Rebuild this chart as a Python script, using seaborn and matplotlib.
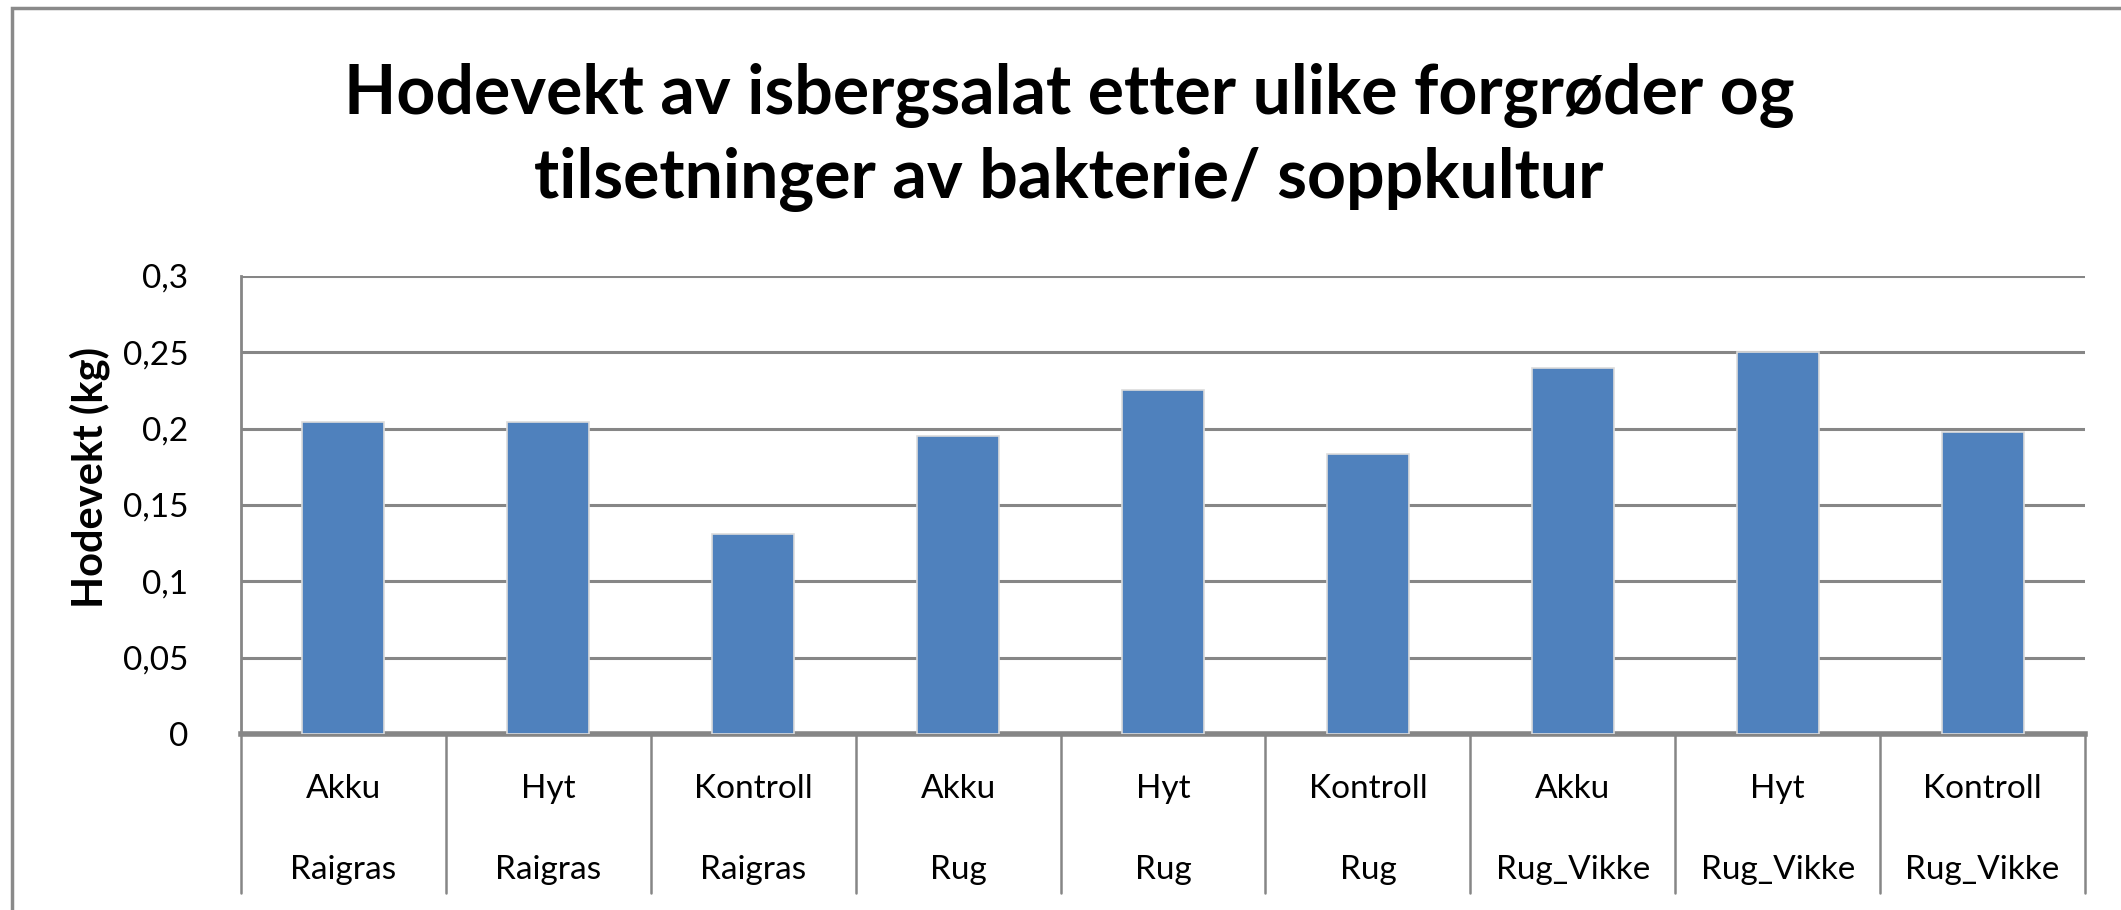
import numpy as np
import pandas as pd
import matplotlib
matplotlib.use("Agg")
import matplotlib.pyplot as plt
import seaborn as sns
from matplotlib.patches import Rectangle

# data
behandling = ["Akku", "Hyt", "Kontroll", "Akku", "Hyt", "Kontroll", "Akku", "Hyt", "Kontroll"]
forgrode = ["Raigras", "Raigras", "Raigras", "Rug", "Rug", "Rug", "Rug_Vikke", "Rug_Vikke", "Rug_Vikke"]
hodevekt = [0.2044, 0.2044, 0.1312, 0.1955, 0.2254, 0.1836, 0.2398, 0.2503, 0.1981]
yticks = [0, 0.05, 0.1, 0.15, 0.2, 0.25, 0.3]
ytick_labels = ["0", "0,05", "0,1", "0,15", "0,2", "0,25", "0,3"]

df = pd.DataFrame({"pos": [str(i) for i in range(len(hodevekt))], "vekt": hodevekt})

sns.set_style("white")
plt.rcParams["font.family"] = ["Lato", "DejaVu Sans"]
plt.rcParams["text.color"] = "black"

W, H = 2121, 910
fig = plt.figure(figsize=(W / 100, H / 100), dpi=100)
ax = fig.add_axes([241 / W, 1 - 734 / H, (2085 - 241) / W, (734 - 276) / H])

grid_col = "#868686"
ax.set_axisbelow(True)
for yv in yticks[1:]:
    ax.axhline(yv, color=grid_col, lw=2.2, zorder=0)

sns.barplot(data=df, x="pos", y="vekt", color="#4F81BD", saturation=1,
            width=0.4, edgecolor="#dcdcdc", linewidth=1.2, ax=ax, zorder=3)

ax.set_ylim(0, 0.3)
ax.set_xlim(-0.5, len(hodevekt) - 0.5)
ax.set_yticks(yticks)
ax.set_yticklabels(ytick_labels, fontsize=24, color="black")
ax.tick_params(axis="y", length=0, pad=38)
ax.set_xticks([])
ax.set_xlabel("")
ax.set_ylabel("Hodevekt (kg)", fontsize=30, fontweight="bold", color="black")
ax.yaxis.set_label_coords(-0.071, 0.56)

for side in ["top", "right"]:
    ax.spines[side].set_visible(False)
ax.spines["left"].set_color(grid_col)
ax.spines["left"].set_linewidth(2)
ax.spines["bottom"].set_color(grid_col)
ax.spines["bottom"].set_linewidth(4)

# category separators and two-row labels below the axis
trans = ax.get_xaxis_transform()
sep_bottom = -(893 - 734) / (734 - 276)
for b in np.arange(-0.5, len(hodevekt), 1.0):
    ax.plot([b, b], [0, sep_bottom], transform=trans, color=grid_col, lw=1.8, clip_on=False)

row1 = -(789 - 734) / (734 - 276)
row2 = -(870 - 734) / (734 - 276)
for i, (bh, fg) in enumerate(zip(behandling, forgrode)):
    ax.text(i, row1, bh, transform=trans, ha="center", va="center", fontsize=24)
    ax.text(i, row2, fg, transform=trans, ha="center", va="center", fontsize=24)

fig.text(1069 / W, 1 - 95 / H, "Hodevekt av isbergsalat etter ulike forgrøder og",
         ha="center", va="center", fontsize=49, fontweight="bold")
fig.text(1069 / W, 1 - 180 / H, "tilsetninger av bakterie/ soppkultur",
         ha="center", va="center", fontsize=49, fontweight="bold")

# outer chart frame (left and top edges visible in the crop)
fig.patches.append(Rectangle((12 / W, -0.05), 1.2, 1 - 8 / H + 0.05, transform=fig.transFigure,
                             fill=False, edgecolor="#8a8a8a", lw=2.5))

fig.savefig("out.png", dpi=100, facecolor="white")
